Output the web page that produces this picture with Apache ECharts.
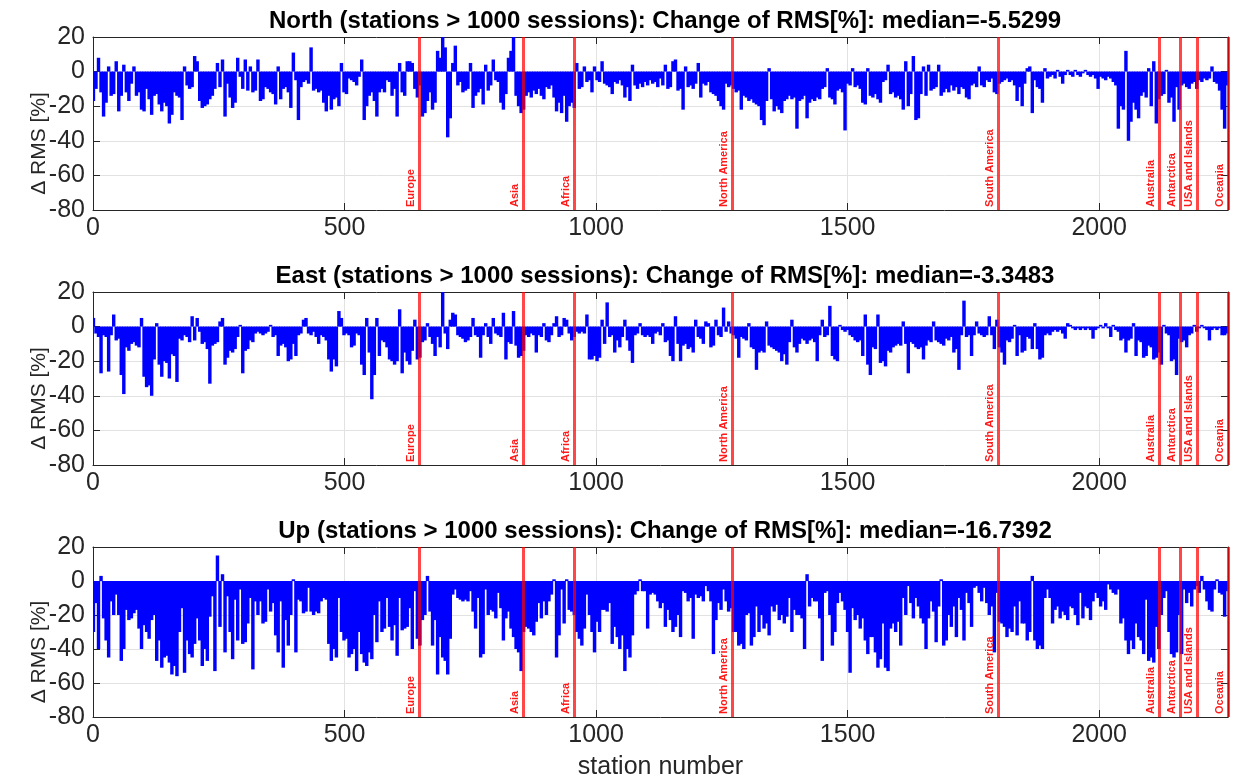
<!DOCTYPE html>
<html><head><meta charset="utf-8">
<script src="https://cdn.jsdelivr.net/npm/echarts@6/dist/echarts.min.js"></script>
<style>html,body{margin:0;padding:0;background:#fff}#c{width:1237px;height:781px}</style>
</head><body><div id="c"></div>
<script>
// ---- data ----
const BIN = 5.03;            // stations per plotted bar
const X_MAX = 2256;          // number of stations
const X_INTERVAL = 500;
const Y_MIN = -80, Y_MAX = 20, Y_INTERVAL = 20;
const regionNames = ['Europe','Asia','Africa','North America','South America','Australia','Antarctica','USA and Islands','Oceania'];
const regionBounds = [649, 856, 957, 1271, 1800, 2119, 2162, 2195, 2256];
const panelTitles = [
  'North (stations > 1000 sessions): Change of RMS[%]: median=-5.5299',
  'East (stations > 1000 sessions): Change of RMS[%]: median=-3.3483',
  'Up (stations > 1000 sessions): Change of RMS[%]: median=-16.7392'
];
const northValues = [
-17,-10,8,-12,-26,-18,3,-14,-13,6,
-23,-14,4,-12,-17,-7,3,-14,-12,-22,
-23,-10,-16,-25,-14,-13,-19,-23,-18,-20,
-30,-25,-12,-14,-15,-28,3,-8,-10,-9,
9,6,-17,-21,-20,-19,-16,-14,-10,5,
-9,7,-26,-7,-15,-21,-18,8,-3,-10,
7,-11,3,-12,-11,7,-17,-16,-9,-10,
-12,-13,-19,3,-16,-10,-9,-12,-21,11,
-5,-28,-9,-6,-5,-7,14,-11,-10,-12,
-11,-18,-23,-14,-22,-16,-15,-20,5,-12,
-13,-4,-5,-6,-8,-3,7,-28,-20,-14,
-12,-17,-26,-12,-10,-12,-5,-6,-14,-10,
-26,5,-12,-14,6,6,5,-10,-15,-8,
-26,-24,-17,-12,-22,-18,12,8,20,14,
-38,-27,5,15,-8,-6,-12,-11,-10,5,
-21,-14,-12,-10,-19,4,-11,-8,7,-5,
-6,-18,-22,-13,8,12,20,-14,-20,-24,
-22,-14,-12,-15,-11,-13,-10,-14,-16,-9,
-10,-8,-15,-23,-18,-24,-14,-29,-20,-18,
-21,5,-10,-9,3,-6,-5,-12,3,-5,
-6,6,-7,-8,-9,-13,-6,-7,-5,-8,
-15,-9,-17,4,-8,-10,-7,-9,-6,-8,
-5,-7,-6,-9,-4,-8,4,-10,-9,6,
7,-11,-10,-22,3,-9,-8,-10,-7,5,
-15,-7,-8,-6,-12,-13,-14,-17,-20,-22,
-7,-9,-8,-10,-12,-11,-22,-14,-15,-17,
-16,-18,-19,-20,-28,-31,-17,2,-16,-23,
-20,-22,-24,-17,-16,-14,-16,-15,-33,-17,
-16,-14,-27,-18,-16,-17,-15,-16,-10,-9,
2,-15,-16,-19,-11,-10,-12,-34,-7,-8,
2,-9,-8,-10,-18,-19,2,-14,-15,-13,
-16,-18,-6,-5,4,-13,-12,-15,-14,-16,
-22,6,-20,-13,9,-28,-27,-13,3,-14,
4,-11,-10,-9,4,-14,-12,-10,-12,-8,
-11,-9,-13,-9,-10,-15,-16,-8,-7,-9,
3,-8,-9,-5,-6,-4,-12,-13,-7,-6,
-5,-4,-6,-5,-8,-17,-9,-20,-7,2,
3,-24,-5,-9,-10,-18,2,-4,-3,-2,
-4,1,-3,-7,-2,1,-2,-3,1,-2,
-3,-1,1,-2,-3,-2,-4,-10,-3,-4,
-5,-3,-4,-6,-8,-33,-20,-22,12,-40,
-29,-18,-22,-27,-14,-12,-15,2,-20,6,
-30,-16,-14,-13,1,-18,-15,-29,-9,-22,
-8,-7,-9,-10,-7,-6,-10,-5,-6,-4,
-5,-4,3,-6,-7,-11,-22,-33,-8
];
const eastValues = [
5,-4,-6,-27,-5,-6,-26,-5,7,-8,
-7,-28,-39,-12,-14,-10,-9,-11,-12,5,
-29,-35,-34,-40,-19,2,-22,-29,-20,-21,
-30,-16,-17,-32,-7,-8,-5,-6,-9,6,
-8,5,-3,-10,-9,-13,-33,-11,-10,-9,
3,5,-22,-18,-14,-15,-13,-6,1,-27,
-14,-13,-8,-9,-4,-3,-4,-5,-4,-3,
1,-6,-5,-17,-11,-10,-12,-20,-19,-10,
-17,-5,-4,4,5,-4,-5,-3,-6,-10,
-5,-6,-8,-19,-26,-19,-23,9,5,-5,
-4,-5,-12,-11,-4,-5,-22,-28,5,-15,
-42,-28,5,-17,-8,-9,-12,-19,-20,-22,
-20,10,-27,-15,-20,-22,-14,4,-19,-18,
-9,-8,2,-6,-10,-17,-6,-12,20,-4,
-13,4,8,7,-5,-6,-7,-9,-8,-6,
5,-5,-6,-18,-5,2,-6,-10,5,-4,
-5,-6,8,-19,-9,-10,9,-11,-18,-17,
-14,-5,-6,-4,-5,-15,-5,-6,2,-8,
-9,-5,2,6,-6,-5,5,4,-4,-8,
-6,-3,-4,-3,-4,7,-19,-19,-17,-20,
-18,4,-10,14,-6,-5,-15,-8,-12,-6,
4,-8,-14,-21,-5,-4,2,-5,-6,-5,
-6,-10,-4,-3,-5,2,-9,-8,-17,-20,
6,-10,-20,-11,-10,-13,-12,-15,4,-6,
-7,-10,3,2,-12,-11,4,-5,-6,11,
-3,3,-4,-5,-7,-18,-6,-7,-8,2,
-12,-13,-25,-15,-14,-15,3,-11,-12,-13,
-14,-15,-20,-16,-22,-9,4,-12,-15,-10,
-7,-8,-10,-8,-7,-9,-20,-5,4,-6,
-5,12,-17,-19,-20,1,-2,-3,-2,-5,
-6,-8,-9,-8,-17,7,-22,-28,-12,-13,
7,-21,-20,-23,-14,-15,-12,-11,-10,-11,
3,-10,-27,-9,-10,-12,-13,-12,-19,-11,
-8,-9,3,-8,-9,-10,-11,-7,-8,-6,
-15,-13,-25,-5,15,-6,-5,-17,-5,3,
-4,-5,-6,-5,6,-5,-13,4,-12,-15,
-22,-8,-9,-7,1,-17,-5,-15,-14,-6,
-7,-13,2,-13,-19,-18,-5,-4,-5,-3,
-2,-3,-2,-4,-7,2,1,-1,-2,-1,
-2,-1,-2,-1,-2,-7,-2,-1,1,-1,
2,-1,-6,1,-2,-3,-8,-7,-15,-8,
-7,2,-17,-8,-9,-18,-17,-11,-12,-19,
-18,-15,-22,1,-4,-5,-20,-19,-28,-7,
-9,-8,-12,-5,-4,1,-3,-1,1,-1,
-2,-8,-2,-1,-2,-1,-5,-5,-4
];
const upValues = [
-30,-13,-40,3,-22,-35,-45,-12,-20,-8,
-20,-47,-40,-17,-23,-22,-19,-17,-28,-40,
-26,-30,-34,-23,-20,-47,-35,-51,-45,-44,
-48,-55,-50,-56,-30,-16,-54,-35,-43,-45,
-37,-22,-35,-50,-40,-47,-21,-9,-53,15,
-27,4,-42,-9,-30,-46,-11,-35,-5,-37,
-36,-25,-10,-52,-12,-20,-12,-25,-24,-5,
-18,-13,-32,-42,-12,-51,-23,-38,-20,1,
-42,-11,-12,-19,-18,-4,-18,-20,-18,-19,
-12,-10,-11,-37,-47,-40,-45,-10,-30,-35,
-34,-45,-43,-40,-53,-30,-43,-48,-50,-42,
-46,-20,-36,-12,-30,-28,-10,-27,-35,-26,
-44,-10,-29,-28,-27,-16,-40,-6,-34,-38,
-23,-20,3,-18,-38,-23,-55,-33,-45,-47,
-55,-34,-8,-5,-10,-11,-12,-11,-12,-6,
-18,-28,-10,-45,-43,-5,-20,-17,-18,-22,
-7,-16,-35,-22,-18,-28,-33,-40,-42,-53,
-30,-27,-28,-30,-32,-24,-13,-22,-12,-20,
-12,-8,1,-45,-32,-5,-25,1,-17,-18,
-20,-30,-34,-38,-28,-8,-20,-30,-42,-24,
-30,-17,-17,-18,-13,-37,-27,-33,-40,-32,
-53,-40,-45,-32,-8,-6,1,-6,-6,-28,
-8,-7,-8,-12,-16,-13,-27,-17,-23,-30,
-27,-20,-33,-6,-7,-12,-10,-34,-8,-10,
-9,-12,-3,-6,-12,-43,-23,-13,-17,-5,
-12,-18,-16,-30,-30,-38,-37,-40,-20,-19,
-38,-33,-15,-30,-20,-28,-25,-32,-15,-18,
-14,-23,-20,-25,-21,-10,-30,-17,-20,-20,
-22,-40,4,-15,-10,-12,-12,-22,-47,-7,
-6,-20,-38,-30,-13,-7,-12,-17,-30,-54,
-16,-23,-20,-28,-22,-35,-43,-33,-33,-42,
-51,-46,-25,-51,-53,-28,-25,-30,-24,-38,
-10,-20,-3,-13,-22,-10,-15,-22,-25,-40,
-22,-12,-18,-36,-15,1,-38,-35,-20,-27,
-15,-33,-10,-17,-35,-7,-13,-27,-4,-3,
-7,-12,-4,-13,-20,-15,-42,-7,-24,-25,
-27,-33,-28,-30,-15,-32,-12,-25,-25,-35,
-30,3,-35,-40,-38,-40,-10,-5,-10,-25,
-17,-15,-22,-18,-20,-23,-15,-16,-20,-26,
-7,-22,-15,-16,-23,-12,-7,-10,-15,-12,
-17,-2,-5,-7,-8,-5,-25,-22,-35,-43,
-35,-40,-25,-33,-35,-43,-11,-47,-45,-48,
-27,-40,-20,-10,-6,-30,-43,-45,-42,-20,
-43,-5,-13,-7,-15,-5,-3,-7,3,-5,
-12,-17,-18,-5,1,-7,-8,-21,-6
];
const panelValues = [northValues, eastValues, upValues];

// ---- chart ----
const FONT = '"Liberation Sans", Arial, Helvetica, sans-serif';
const AX = '#262626';
const GRIDC = '#e2e2e2';
const gridTops = [37, 292, 547];
const chart = echarts.init(document.getElementById('c'), null, {renderer: 'canvas'});

const grid = gridTops.map(t => ({left: 93, width: 1135, top: t, height: 173, containLabel: false}));
const xAxis = [], yAxis = [], series = [], title = [];

function renderBar(params, api) {
  const x = api.value(0), v = api.value(1);
  const pA = api.coord([x - BIN / 2, 0]);
  const pB = api.coord([x + BIN / 2, v]);
  const rect = {
    x: pA[0], y: Math.min(pA[1], pB[1]),
    width: pB[0] - pA[0] + 0.9, height: Math.abs(pB[1] - pA[1])
  };
  const clipped = echarts.graphic.clipRectByRect(rect, {
    x: params.coordSys.x, y: params.coordSys.y,
    width: params.coordSys.width, height: params.coordSys.height
  });
  return clipped && {type: 'rect', shape: clipped, style: {fill: '#0000ff'}};
}

gridTops.forEach((t, k) => {
  const common = {type: 'value', gridIndex: k, min: 0, max: X_MAX, interval: X_INTERVAL};
  xAxis.push(Object.assign({}, common, {
    position: 'bottom',
    axisLine: {show: true, onZero: false, lineStyle: {color: AX, width: 1}},
    axisTick: {show: true, inside: true, length: 7, lineStyle: {color: AX}},
    axisLabel: {show: true, color: AX, fontSize: 25, fontFamily: FONT, margin: 6,
                showMaxLabel: false, formatter: v => String(v)},
    splitLine: {show: true, lineStyle: {color: GRIDC, width: 1}},
    name: k === 2 ? 'station number' : '',
    nameLocation: 'middle', nameGap: 38, nameMoveOverlap: false,
    nameTextStyle: {color: AX, fontSize: 25, fontFamily: FONT}
  }));
  xAxis.push(Object.assign({}, common, {
    position: 'top',
    axisLine: {show: true, onZero: false, lineStyle: {color: AX, width: 1}},
    axisTick: {show: true, inside: true, length: 7, lineStyle: {color: AX}},
    axisLabel: {show: false}, splitLine: {show: false}
  }));
  const ycommon = {type: 'value', gridIndex: k, min: Y_MIN, max: Y_MAX, interval: Y_INTERVAL};
  yAxis.push(Object.assign({}, ycommon, {
    position: 'left',
    axisLine: {show: true, onZero: false, lineStyle: {color: AX, width: 1}},
    axisTick: {show: true, inside: true, length: 7, lineStyle: {color: AX}},
    axisLabel: {show: true, color: AX, fontSize: 25, fontFamily: FONT, margin: 8},
    splitLine: {show: true, lineStyle: {color: GRIDC, width: 1}},
    name: 'Δ RMS [%]', nameLocation: 'middle', nameGap: 43, nameRotate: 90,
    nameMoveOverlap: false,
    nameTextStyle: {color: AX, fontSize: 21, fontFamily: FONT, padding: [0, 40, 0, 0]}
  }));
  yAxis.push(Object.assign({}, ycommon, {
    position: 'right',
    axisLine: {show: true, onZero: false, lineStyle: {color: AX, width: 1}},
    axisTick: {show: true, inside: true, length: 7, lineStyle: {color: AX}},
    axisLabel: {show: false}, splitLine: {show: false}
  }));
  series.push({
    type: 'custom',
    xAxisIndex: 2 * k, yAxisIndex: 2 * k,
    data: panelValues[k].map((v, i) => [i * BIN, v]),
    renderItem: renderBar,
    silent: true,
    z: 2
  });
  series.push({
    type: 'line',
    xAxisIndex: 2 * k, yAxisIndex: 2 * k,
    data: [[0, 0]],
    showSymbol: false, symbol: 'none',
    lineStyle: {width: 0, opacity: 0},
    silent: true,
    z: 4,
    markLine: {
      silent: true,
      symbol: ['none', 'none'],
      animation: false,
      lineStyle: {color: 'rgba(255,0,0,0.72)', width: 3, type: 'solid'},
      label: {show: true, position: 'insideStartTop', formatter: '{b}', color: '#ff1a1a',
              fontSize: 11, fontWeight: 'bold', fontFamily: FONT, distance: 3},
      data: regionBounds.map((b, j) => ({name: regionNames[j], xAxis: b}))
    }
  });
  title.push({
    text: panelTitles[k], left: 660, textAlign: 'center', top: t - 33,
    textStyle: {color: '#000', fontSize: 24, fontWeight: 'bold', fontFamily: FONT}
  });
});

chart.setOption({animation: false, backgroundColor: '#fff', title, grid, xAxis, yAxis, series});
</script>
</body></html>
